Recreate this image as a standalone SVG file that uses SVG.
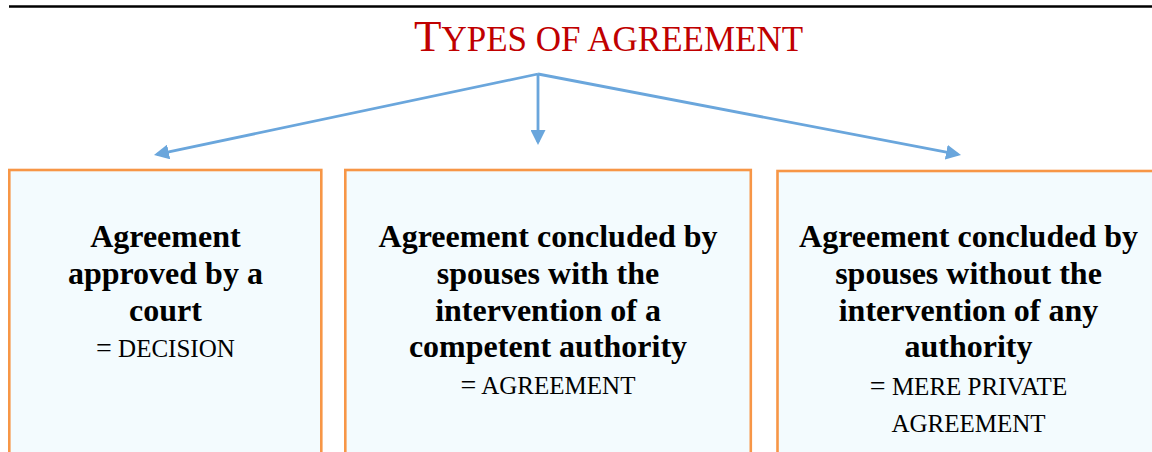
<svg xmlns="http://www.w3.org/2000/svg" width="1152" height="452" viewBox="0 0 1152 452">
  <defs>
    <marker id="ah" viewBox="0 0 15 15" refX="12" refY="7.5" markerWidth="15" markerHeight="15" markerUnits="userSpaceOnUse" orient="auto">
      <path d="M0,0 L15,7.5 L0,15 z" fill="#6aa6dc"/>
    </marker>
  </defs>
  <style>
    .box { fill: #f3fbfe; stroke: #f79646; stroke-width: 2.6; }
    .conn { stroke: #6aa6dc; stroke-width: 2.8; fill: none; marker-end: url(#ah); }
    .b { font-family: "Liberation Serif", "Times New Roman", serif; font-weight: bold; font-size: 32px; fill: #000; text-anchor: middle; }
    .r { font-family: "Liberation Serif", "Times New Roman", serif; font-size: 25px; fill: #000; text-anchor: middle; }
    .eq { font-size: 28px; }
    .title { font-family: "Liberation Serif", "Times New Roman", serif; fill: #c00000; text-anchor: middle; }
  </style>
  <rect x="0" y="0" width="1152" height="452" fill="#ffffff"/>
  <line x1="9" y1="6.5" x2="1152" y2="6.5" stroke="#000" stroke-width="2.5"/>
  <g id="title">
    <text class="title" x="608.5" y="50.5"><tspan font-size="45">T</tspan><tspan font-size="35">YPES OF AGREEMENT</tspan></text>
  </g>
  <g id="connectors">
    <line class="conn" x1="538" y1="74" x2="156.9" y2="154.4"/>
    <line class="conn" x1="538" y1="74" x2="538" y2="142"/>
    <line class="conn" x1="538" y1="74" x2="958.05" y2="154.44"/>
  </g>
  <g id="node-court">
    <rect class="box" x="9.3" y="170" width="312" height="300"/>
    <text class="b" x="165.4" y="247.3">Agreement</text>
    <text class="b" x="165.4" y="283.5">approved by a</text>
    <text class="b" x="165.4" y="320.5">court</text>
    <text class="r" x="165.4" y="357.3"><tspan class="eq">=</tspan> DECISION</text>
  </g>
  <g id="node-authority">
    <rect class="box" x="345.3" y="170" width="405.5" height="300"/>
    <text class="b" x="548" y="247.3">Agreement concluded by</text>
    <text class="b" x="548" y="283.5">spouses with the</text>
    <text class="b" x="548" y="320.5">intervention of a</text>
    <text class="b" x="548" y="356.5">competent authority</text>
    <text class="r" x="548" y="394"><tspan class="eq">=</tspan> AGREEMENT</text>
  </g>
  <g id="node-private">
    <rect class="box" x="777.5" y="171" width="400" height="300"/>
    <text class="b" x="968.5" y="247.3">Agreement concluded by</text>
    <text class="b" x="968.5" y="283.5">spouses without the</text>
    <text class="b" x="968.5" y="320.5">intervention of any</text>
    <text class="b" x="968.5" y="356.7">authority</text>
    <text class="r" x="968.5" y="395"><tspan class="eq">=</tspan> MERE PRIVATE</text>
    <text class="r" x="968.5" y="431.7">AGREEMENT</text>
  </g>
</svg>
